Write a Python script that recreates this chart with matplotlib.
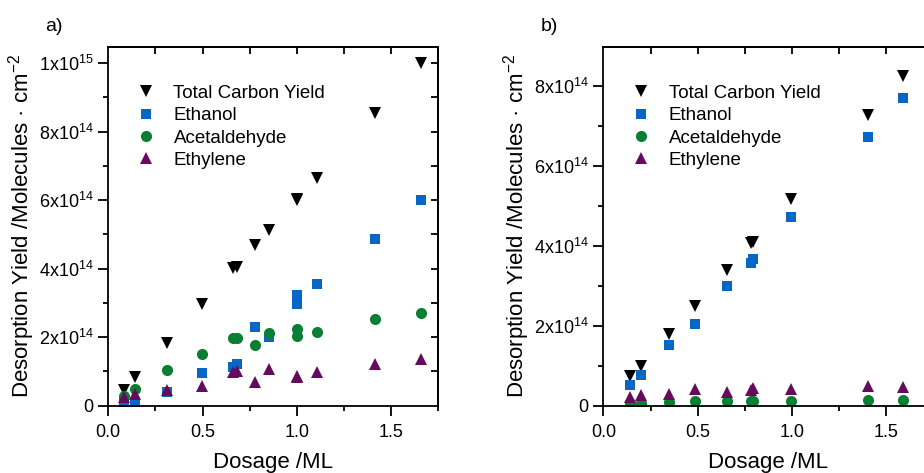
import matplotlib
matplotlib.use("Agg")
import matplotlib.pyplot as plt
from matplotlib.ticker import MultipleLocator, FixedLocator

plt.rcParams["font.family"] = ["Liberation Sans", "DejaVu Sans"]
plt.rcParams["mathtext.fontset"] = "custom"
plt.rcParams["mathtext.rm"] = "Liberation Sans"
plt.rcParams["mathtext.it"] = "Liberation Sans:italic"
plt.rcParams["mathtext.bf"] = "Liberation Sans:bold"
plt.rcParams["mathtext.default"] = "regular"

# panel a) values in units of 1e14 molecules/cm^2
dose_a = [0.083, 0.142, 0.31, 0.495, 0.663, 0.68, 0.778, 0.854, 1.0, 1.0, 1.105, 1.414, 1.656]
total_a = [0.46, 0.85, 1.82, 2.97, 4.01, 4.05, 4.69, 5.13, 6.0, 6.02, 6.64, 8.54, 10.0]
ethanol_a = [0.07, 0.12, 0.41, 0.96, 1.14, 1.21, 2.29, 2.0, 2.97, 3.23, 3.55, 4.86, 6.0]
acetald_a = [0.28, 0.48, 1.04, 1.5, 1.97, 1.97, 1.77, 2.13, 2.23, 2.02, 2.16, 2.52, 2.72]
ethylene_a = [0.26, 0.34, 0.46, 0.58, 0.97, 1.0, 0.70, 1.06, 0.87, 0.83, 0.99, 1.22, 1.35]

# panel b)
dose_b = [0.141, 0.198, 0.349, 0.485, 0.656, 0.782, 0.792, 0.997, 1.402, 1.587]
total_b = [0.73, 0.99, 1.79, 2.49, 3.38, 4.06, 4.10, 5.16, 7.27, 8.23]
ethanol_b = [0.52, 0.77, 1.52, 2.03, 2.99, 3.56, 3.66, 4.71, 6.71, 7.68]
acetald_b = [0.06, 0.07, 0.08, 0.12, 0.11, 0.12, 0.12, 0.11, 0.14, 0.14]
ethylene_b = [0.22, 0.27, 0.29, 0.41, 0.35, 0.40, 0.43, 0.41, 0.49, 0.47]

labels = ["Total Carbon Yield", "Ethanol", "Acetaldehyde", "Ethylene"]
colors = ["#000000", "#0866C6", "#0A7E32", "#660A5E"]
markers = ["v", "s", "o", "^"]
msizes = [9, 7, 8, 9]


def sci_label(v):
    v = v * 1e14
    if v == 0:
        return "0"
    exp = len(str(int(round(v)))) - 1
    mant = int(round(v / 10**exp))
    return "%dx10$^{%d}$" % (mant, exp)


def draw_panel(ax, x, ys, ymax, letter):
    for y, lab, c, m, s in zip(ys, labels, colors, markers, msizes):
        ax.plot(x, y, linestyle="none", marker=m, color=c, markersize=s,
                markeredgewidth=0, label=lab)

    ax.set_xlim(0, 1.75)
    ax.set_ylim(0, ymax)
    for sp in ax.spines.values():
        sp.set_linewidth(1.3)

    ax.xaxis.set_major_locator(FixedLocator([0, 0.5, 1.0, 1.5]))
    ax.xaxis.set_minor_locator(FixedLocator([0.25, 0.75, 1.25, 1.75]))
    ax.set_xticklabels(["0.0", "0.5", "1.0", "1.5"])
    ax.yaxis.set_major_locator(MultipleLocator(2))
    ax.yaxis.set_minor_locator(MultipleLocator(1))
    ax.set_yticklabels([sci_label(t) for t in ax.get_yticks()])

    ax.tick_params(which="both", direction="out", labelsize=13, width=1.3,
                   top=False, right=False, pad=3.6)
    ax.tick_params(axis="x", which="major", pad=6)
    ax.tick_params(which="major", length=7)
    ax.tick_params(which="minor", length=3.6)

    # mirrored ticks on top and right, pointing inwards
    top = ax.secondary_xaxis("top")
    top.set_xticks([0.25 * i for i in range(1, 8)])
    top.tick_params(direction="in", length=5, width=1.3, labeltop=False)
    top.spines["top"].set_linewidth(1.3)
    right = ax.secondary_yaxis("right")
    right.set_yticks(list(range(1, int(ymax) + 1)))
    right.tick_params(direction="in", length=5, width=1.3, labelright=False)
    right.spines["right"].set_linewidth(1.3)

    ax.set_xlabel("Dosage /ML", fontsize=16)
    ax.xaxis.set_label_coords(0.5, -0.128)
    ax.set_ylabel("Desorption Yield /Molecules · cm$^{-2}$", fontsize=16)
    ax.yaxis.set_label_coords(-0.215, 0.5)

    ax.legend(loc="upper left", bbox_to_anchor=(0.064, 0.915), frameon=False,
              fontsize=13.5, handletextpad=0.95, labelspacing=0.28,
              borderaxespad=0, handlelength=1.0)
    ax.text(-0.19, 1.055, letter, transform=ax.transAxes, fontsize=14,
            va="center", ha="left")


fig = plt.figure(figsize=(9.24, 4.73), dpi=100)
ax_a = fig.add_axes([0.1172, 0.1423, 0.3571, 0.759])
ax_b = fig.add_axes([0.6530, 0.1423, 0.3571, 0.759])

draw_panel(ax_a, dose_a, [total_a, ethanol_a, acetald_a, ethylene_a], 10.48, "a)")
draw_panel(ax_b, dose_b, [total_b, ethanol_b, acetald_b, ethylene_b], 8.975, "b)")

fig.savefig("out.png", dpi=100)
